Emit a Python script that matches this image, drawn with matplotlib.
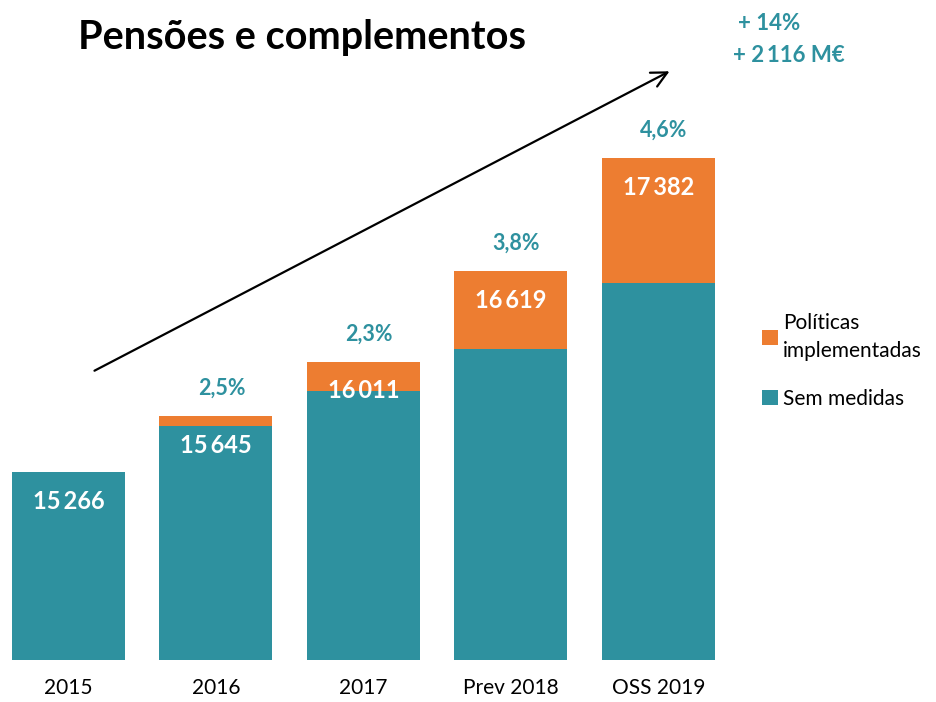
import matplotlib
matplotlib.use('Agg')
import matplotlib.pyplot as plt
import numpy as np

# chart values (M€)
categories = ['2015', '2016', '2017', 'Prev 2018', 'OSS 2019']
sem_medidas = [15266, 15577, 15813, 16096, 16540]
politicas = [0, 68, 198, 523, 842]
total_labels = ['15\u2009266', '15\u2009645', '16\u2009011', '16\u2009619', '17\u2009382']
growth_labels = ['', '2,5%', '2,3%', '3,8%', '4,6%']

teal = '#2E919F'
orange = '#ED7D31'

plt.rcParams['font.family'] = ['Lato', 'DejaVu Sans']

fig = plt.figure(figsize=(9.37, 7.02), dpi=100)
ax = fig.add_axes([2 / 937, 1 - 660 / 702, 730 / 937, 560 / 702])

x = np.arange(len(categories))
totals = np.array(sem_medidas) + np.array(politicas)

ax.bar(x, sem_medidas, width=0.766, color=teal, label='Sem medidas', bottom=0)
ax.bar(x, politicas, width=0.766, color=orange, bottom=sem_medidas,
       label='Políticas\nimplementadas')

ax.set_ylim(14000, 17774)
ax.set_xlim(-0.45, 4.5)

# total values inside bars
for xi, t, lab in zip(x, totals, total_labels):
    ax.annotate(lab, (xi, t), xytext=(0, -21), textcoords='offset points',
                ha='center', va='center', color='white', fontsize=17,
                fontweight='bold')

# growth labels above bars
for xi, t, lab in zip(x, totals, growth_labels):
    if lab:
        ax.annotate(lab, (xi, t), xytext=(4, 20), textcoords='offset points',
                    ha='center', va='center', color=teal, fontsize=15.5,
                    fontweight='bold')

ax.set_xticks(x)
ax.set_xticklabels(categories, fontsize=15)
ax.tick_params(axis='x', length=0, pad=13)
ax.set_yticks([])
for s in ax.spines.values():
    s.set_visible(False)

# trend arrow
ax.annotate('', xy=(672 / 937, 1 - 70 / 702), xytext=(92 / 937, 1 - 372 / 702),
            xycoords='figure fraction', textcoords='figure fraction',
            arrowprops=dict(arrowstyle='->', color='black', lw=1.6,
                            mutation_scale=28))

fig.text(78 / 937, 1 - 38 / 702, 'Pensões e complementos', fontsize=28.5,
         fontweight='bold', ha='left', va='center')
fig.text(769 / 937, 1 - 23 / 702, '+ 14%', fontsize=16, fontweight='bold',
         color=teal, ha='center', va='center')
fig.text(789 / 937, 1 - 56 / 702, '+ 2\u2009116 M€', fontsize=16,
         fontweight='bold', color=teal, ha='center', va='center')

handles, labels = ax.get_legend_handles_labels()
leg = ax.legend(handles[::-1], labels[::-1], loc='upper left',
                bbox_to_anchor=(762 / 937, 1 - 313 / 702),
                bbox_transform=fig.transFigure, frameon=False, fontsize=15,
                handlelength=0.75, handleheight=0.75, handletextpad=0.25,
                labelspacing=1.35, borderpad=0, borderaxespad=0)
for t in leg.get_texts():
    t.set_linespacing(1.5)

plt.savefig('out.png', dpi=100)
plt.close()
